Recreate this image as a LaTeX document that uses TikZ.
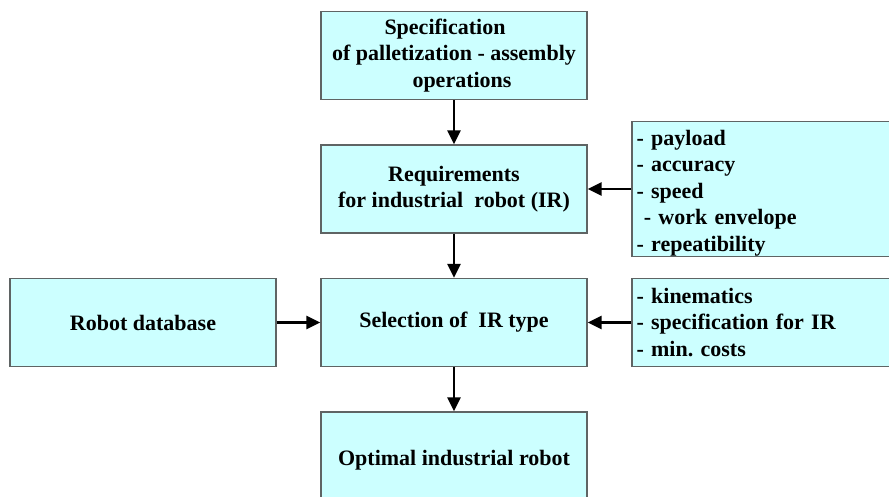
\documentclass[tikz,border=0pt]{standalone}
\usepackage{fontspec}
\setmainfont{Liberation Serif}
\usetikzlibrary{positioning, arrows.meta}

\definecolor{boxcyan}{RGB}{204,255,255}
\definecolor{boxedge}{RGB}{95,100,100}

\begin{document}
\frenchspacing
\begin{tikzpicture}[x=1pt,y=1pt,node distance=133.5pt,on grid,
    block/.style={rectangle,draw=boxedge,line width=1.3pt,fill=boxcyan,
        minimum width=266pt,minimum height=88pt,align=center,
        font=\bfseries\fontsize{22}{26.5}\selectfont},
    listbox/.style={block,minimum width=263pt,text width=254pt,align=left},
    flow/.style={-{Triangle[length=14pt,width=13pt]},line width=2.4pt}]

   \useasboundingbox (0,0) rectangle (889,496);
   \clip (0,0) rectangle (889,496);

   \node[block] (spec) at (454,440.5) {Specification\hspace*{18pt}\\ of palletization - assembly\\ \hspace*{16pt}operations};
   \node[block] (req) [below=of spec] {Requirements\\ for industrial\ \ robot (IR)};
   \node[block] (sel) [below=of req] {Selection of\ \ IR type};
   \node[block,minimum height=96pt,yshift=-4pt] (opt) [below=of sel] {Optimal industrial robot};
   \node[block] (db) [left=311pt of sel] {Robot database};
   \node[listbox,minimum height=135pt,inner ysep=0pt] (props) [right=309.5pt of req]
      {\rule{0pt}{23pt}- payload\\ - accuracy\\ - speed\\ \ - work envelope\\ - repeatibility};
   \node[listbox] (crit) [right=309.5pt of sel]
      {- kinematics\\ - specification for IR\\ - min. costs};

   \path[flow]
   (spec) edge (req)
   (req) edge (sel)
   (sel) edge (opt)
   (db) edge (sel)
   (props) edge (req)
   (crit) edge (sel);

\end{tikzpicture}
\end{document}
